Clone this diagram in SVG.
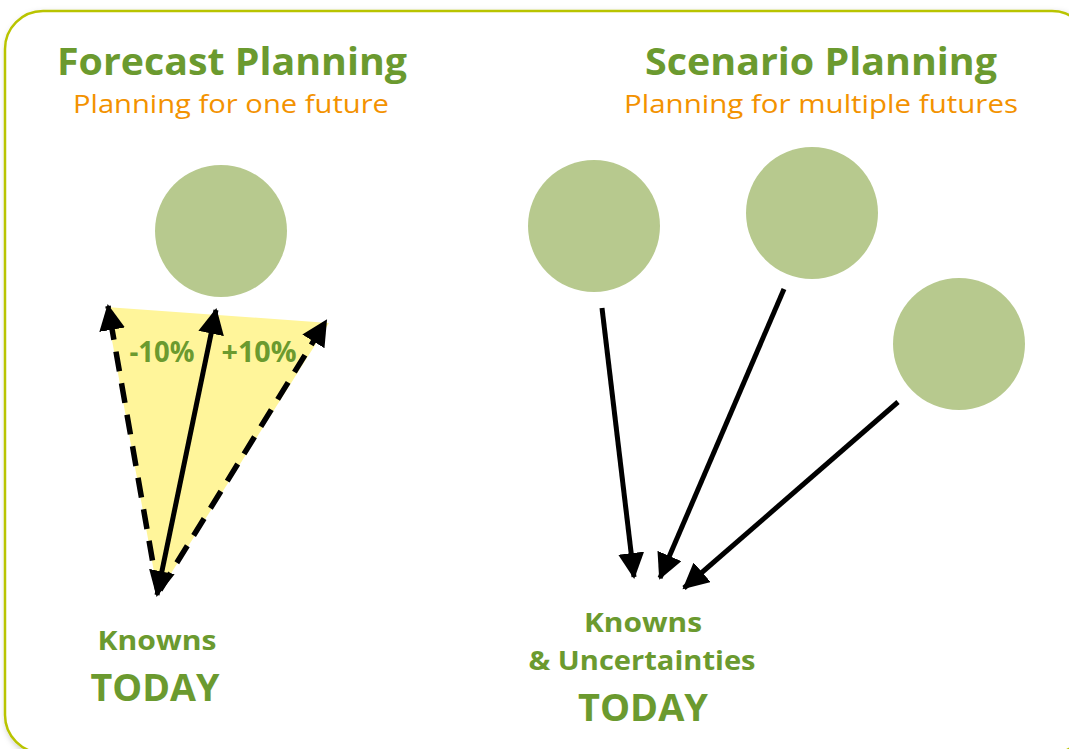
<svg xmlns="http://www.w3.org/2000/svg" width="1069" height="749" viewBox="0 0 1069 749">
<defs>
<style>
.t{font-family:"Open Sans","Liberation Sans",sans-serif;font-weight:700;fill:#6b9a2f;text-anchor:middle}
.s{font-family:"Open Sans","Liberation Sans",sans-serif;font-weight:400;fill:#f39200;text-anchor:middle}
.c{fill:#b7c98e}
.a{stroke:#000;stroke-width:5;fill:none}
.d{stroke-dasharray:20 12;stroke-width:5.5}
</style>
<marker id="ah" markerUnits="userSpaceOnUse" markerWidth="28" markerHeight="26" refX="24" refY="13" orient="auto-start-reverse">
<path d="M0,0 L26,13 L0,26 Z" fill="#000"/>
</marker>
<filter id="sh" x="-5%" y="-5%" width="110%" height="110%">
<feDropShadow dx="2" dy="3" stdDeviation="3" flood-color="#000" flood-opacity="0.25"/>
</filter>
</defs>
<rect x="5" y="11" width="1085" height="742" rx="38" fill="#fff" stroke="#b9c400" stroke-width="2.5" filter="url(#sh)"/>
<g id="forecast-title">
<text class="t" x="232" y="75" font-size="38" textLength="350" lengthAdjust="spacingAndGlyphs">Forecast Planning</text>
<text class="s" x="231" y="113" font-size="26" textLength="316" lengthAdjust="spacingAndGlyphs">Planning for one future</text>
</g>
<g id="scenario-title">
<text class="t" x="821" y="75" font-size="38" textLength="352" lengthAdjust="spacingAndGlyphs">Scenario Planning</text>
<text class="s" x="821" y="113" font-size="26" textLength="394" lengthAdjust="spacingAndGlyphs">Planning for multiple futures</text>
</g>
<g id="cone"><polygon points="106,307 329,323 158,594" fill="#fff59a"/></g>
<g id="forecast-circle"><circle class="c" cx="221" cy="231" r="66"/></g>
<g id="scenario-1"><circle class="c" cx="594" cy="226" r="66"/></g>
<g id="scenario-2"><circle class="c" cx="812" cy="213" r="66"/></g>
<g id="scenario-3"><circle class="c" cx="959" cy="344" r="66"/></g>
<g id="connectors">
<line class="a d" x1="158" y1="592" x2="108" y2="306" marker-end="url(#ah)"/>
<line class="a d" x1="160" y1="590" x2="326" y2="321" marker-end="url(#ah)"/>
<line class="a" x1="157" y1="595" x2="216" y2="310" marker-start="url(#ah)" marker-end="url(#ah)"/>
<line class="a" x1="602" y1="308" x2="634" y2="577" marker-end="url(#ah)"/>
<line class="a" x1="784" y1="289" x2="660" y2="578" marker-end="url(#ah)"/>
<line class="a" x1="898" y1="402" x2="684" y2="588" marker-end="url(#ah)"/>
</g>
<g id="pct-labels">
<text class="t" x="162" y="362" font-size="28" textLength="65" lengthAdjust="spacingAndGlyphs">-10%</text>
<text class="t" x="259" y="362" font-size="28" textLength="75" lengthAdjust="spacingAndGlyphs">+10%</text>
</g>
<g id="today-left">
<text class="t" x="157" y="650" font-size="27" textLength="119" lengthAdjust="spacingAndGlyphs">Knowns</text>
<text class="t" x="155" y="701" font-size="37" textLength="129" lengthAdjust="spacingAndGlyphs">TODAY</text>
</g>
<g id="today-right">
<text class="t" x="643" y="632" font-size="27" textLength="118" lengthAdjust="spacingAndGlyphs">Knowns</text>
<text class="t" x="642" y="670" font-size="27" textLength="227" lengthAdjust="spacingAndGlyphs">&amp; Uncertainties</text>
<text class="t" x="643" y="721" font-size="37" textLength="130" lengthAdjust="spacingAndGlyphs">TODAY</text>
</g>
</svg>
